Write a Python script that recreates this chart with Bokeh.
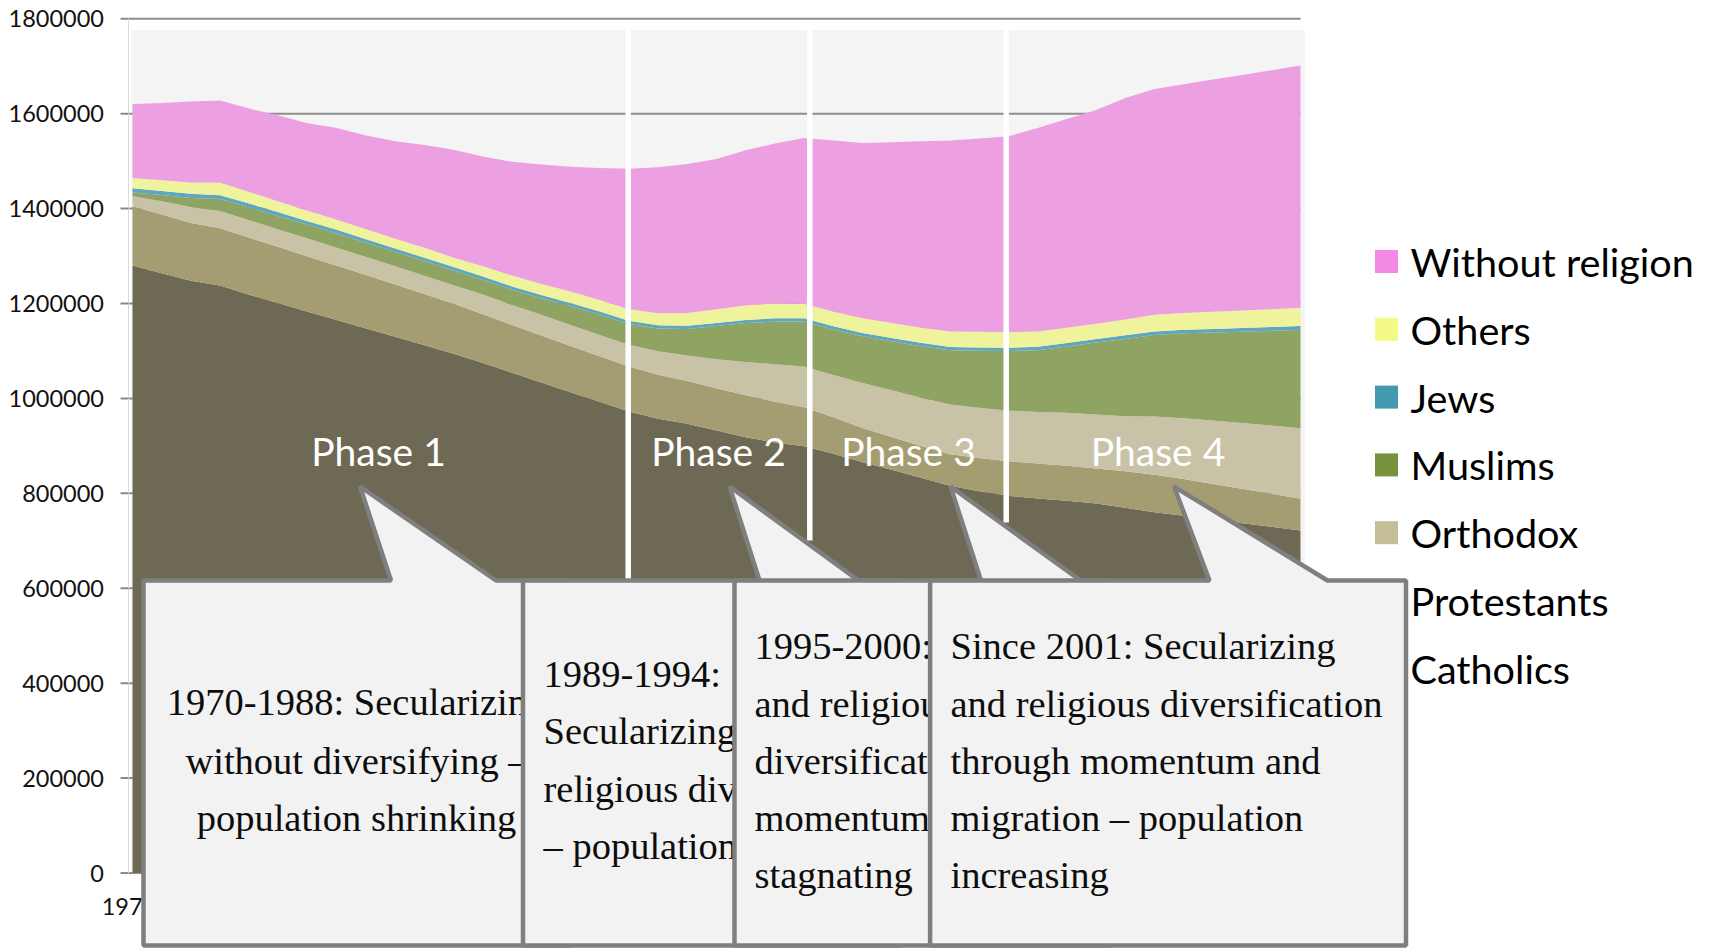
from bokeh.plotting import figure
from bokeh.models import ColumnDataSource, Range1d, FixedTicker, BasicTickFormatter, PolyAnnotation, Label
from bokeh.core.properties import value
from bokeh.embed import file_html
from bokeh.resources import INLINE

# ---------------- data ----------------
years = list(range(1970, 2011))

catholics = [1280000, 1264000, 1248000, 1238000, 1218500, 1200600, 1182800, 1165100, 1147400, 1129800,
             1112000, 1094200, 1074800, 1054100, 1033700, 1013100, 992800, 972400, 957000, 946500,
             932300, 918200, 907000, 899300, 883200, 865500, 849500, 832700, 815800, 804400,
             794800, 789000, 784200, 778500, 769500, 760200, 752600, 744800, 737000, 729400, 721600]
protestants = [125000, 123500, 121500, 120500, 120000, 118500, 116500, 114500, 112500, 110500,
               108000, 105500, 102500, 100500, 99000, 97500, 96000, 94800, 92700, 90000,
               89200, 88500, 86000, 82000, 77000, 72000, 69000, 67000, 66500, 70000,
               73000, 74000, 74000, 74000, 77000, 79000, 77500, 75000, 72500, 70000, 67000]
orthodox = [21000, 28000, 34000, 36500, 37000, 37000, 37500, 38000, 38000, 38000,
            38500, 39000, 41500, 42500, 43500, 44000, 44700, 45700, 49700, 54000,
            61000, 70000, 79000, 86000, 89000, 95000, 99000, 102000, 105000, 106000,
            106500, 108500, 111500, 113500, 116000, 122500, 128000, 133500, 138500, 143500, 148800]
muslims = [7800, 13000, 19000, 25000, 27000, 28000, 29000, 30000, 30000, 30500,
           31000, 31000, 31000, 32000, 35000, 40000, 43000, 44000, 48000, 56000,
           70000, 82000, 90000, 95000, 96000, 98500, 103000, 108500, 114000, 120000,
           125500, 130000, 140000, 152000, 163000, 172000, 179000, 185500, 192500, 199500, 207000]
jews = [9000, 8800, 8600, 8400, 8200, 8000, 7800, 7600, 7400, 7200,
        7000, 7000, 6900, 6800, 6700, 6600, 6600, 6600, 6600, 6700,
        6700, 6800, 6800, 6800, 6900, 6900, 7000, 7000, 7000, 7100,
        7100, 7200, 7200, 7300, 7400, 7500, 7600, 7700, 7800, 7900, 8000]
others = [21800, 22500, 24000, 26000, 24500, 23000, 22000, 21500, 21000, 20500,
          21000, 20000, 22000, 23000, 23500, 24000, 24500, 24600, 25500, 26700,
          28500, 30500, 31500, 30500, 30500, 31000, 31500, 32000, 33000, 33000,
          32500, 32300, 32300, 32300, 33500, 35000, 35500, 36000, 37000, 37800, 38600]
without_religion = [156100, 163000, 170500, 173200, 175600, 180900, 184400, 193300, 197700, 205500,
                    216500, 227300, 231000, 239800, 251800, 262800, 278100, 295900, 307500, 313900,
                    316700, 327000, 336700, 349400, 360800, 369600, 380800, 392800, 402100, 407100,
                    413100, 429000, 439800, 450400, 466600, 476100, 481800, 489500, 496500, 503500, 510400]

series_names = ["Catholics", "Protestants", "Orthodox", "Muslims", "Jews", "Others", "Without religion"]
series_values = [catholics, protestants, orthodox, muslims, jews, others, without_religion]
area_colors = ["#6E6954", "#A59D72", "#C8C3A6", "#8FA363", "#5FA6BF", "#EEF39C", "#EDA0E1"]
legend_colors = ["#6E6954", "#A59D72", "#C4BD97", "#77933C", "#4499B0", "#F3FA85", "#F58AE6"]

y_ticks = [0, 200000, 400000, 600000, 800000, 1000000, 1200000, 1400000, 1600000, 1800000]
x_label = "1970"

phase_labels = ["Phase 1", "Phase 2", "Phase 3", "Phase 4"]
callout_texts = [
    ["1970-1988: Secularizing", "without diversifying \u2013", "population shrinking"],
    ["1989-1994:", "Secularizing and", "religious diversification", "\u2013 population increasing"],
    ["1995-2000: Secularizing", "and religious", "diversification through", "momentum \u2013 population", "stagnating"],
    ["Since 2001: Secularizing", "and religious diversification", "through momentum and", "migration \u2013 population", "increasing"],
]

# ---------------- layout helpers (picture pixel -> data) ----------------
CX, CY, W, H = 0, 0, 1700, 948          # canvas position / size in the picture
X0_PX, PX_PER_YEAR = 132.0, 29.2        # 1970 at picture x=132
Y0_PX, UNITS_PER_PX = 872.5, 2107.2     # value 0 at picture y=872.5


def fx(px):
    return 1970 + (px - X0_PX) / PX_PER_YEAR


def fy(py):
    return (Y0_PX - py) * UNITS_PER_PX


p = figure(width=W, height=H, output_backend="svg", toolbar_location=None,
           x_axis_location=None,
           x_range=Range1d(fx(CX), fx(CX + W)), y_range=Range1d(fy(CY + H), fy(CY)),
           min_border_left=0, min_border_right=0, min_border_top=0, min_border_bottom=0)
p.outline_line_color = None
p.background_fill_color = "white"
p.border_fill_color = "white"
p.grid.visible = False

ax = p.yaxis[0]
ax.fixed_location = fx(127.5)
ax.ticker = FixedTicker(ticks=y_ticks)
ax.formatter = BasicTickFormatter(use_scientific=False)
ax.bounds = (0, 1800000)
ax.axis_line_color = "#D9D9D9"
ax.major_tick_line_color = "#868686"
ax.major_tick_out = 7
ax.major_tick_in = 0
ax.minor_tick_line_color = None
ax.major_label_text_font = "Lato"
ax.major_label_text_font_size = "23.5px"
ax.major_label_text_color = "#111111"
ax.major_label_standoff = 17

# plot-area background and gridlines
p.quad(left=fx(131), right=fx(1304.6), bottom=0, top=fy(29.4), color="#F4F4F4", line_color=None)
p.segment(x0=[fx(120)] * len(y_ticks), x1=[fx(1300)] * len(y_ticks), y0=y_ticks, y1=y_ticks,
          line_color="#8E8E8E", line_width=2)

# stacked areas
src = ColumnDataSource(data=dict(year=years, **{n: v for n, v in zip(series_names, series_values)}))
p.varea_stack(stackers=series_names, x="year", color=area_colors, source=src)

# phase separators
sep_x = [fx(627.7), fx(809.3), fx(1005.7)]
p.segment(x0=sep_x, x1=sep_x, y0=[fy(29.4)] * 3, y1=[fy(580), fy(540), fy(522)],
          line_color="white", line_width=5.5)

p.text(x=[fx(378), fx(718), fx(908), fx(1157.5)], y=[fy(450)] * 4, text=phase_labels,
       text_font=value("Lato"), text_font_size="39px", text_color="white",
       text_align="center", text_baseline="middle")

# legend (drawn as glyphs so the callouts can sit on top of it)
leg_names = series_names[::-1]
leg_cols = legend_colors[::-1]
leg_y = [fy(261 + 67.8 * i) for i in range(len(leg_names))]
p.scatter(x=[fx(1386)] * len(leg_names), y=leg_y, marker="square", size=23,
          fill_color=leg_cols, line_color=None)
p.text(x=[fx(1410)] * len(leg_names), y=leg_y, text=leg_names, text_font=value("Lato"),
       text_font_size="39.6px", text_color="black", text_align="left", text_baseline="middle")

# x label (mostly hidden by the callouts)
p.text(x=[fx(128.5)], y=[fy(906)], text=[x_label], text_font=value("Lato"), text_font_size="23.5px",
       text_color="#111111", text_align="center", text_baseline="middle")

# callouts
TOP, BOT, TIP_Y = 580, 945, 486
callouts = [
    dict(L=143, R=569, tip=359.5, bl=390.5, br=495.5, align="center", tx=356, ty=[701, 760, 817.5]),
    dict(L=522.5, R=900, tip=729, bl=759, br=858, align="left", tx=543, ty=[673.6, 730.3, 788, 845.8]),
    dict(L=734, R=1110, tip=950, bl=980.5, br=1080, align="left", tx=754, ty=[645.3, 703, 760.5, 817.5, 874.2]),
    dict(L=929.6, R=1405.5, tip=1173.5, bl=1209, br=1327, align="left", tx=950, ty=[645.3, 703, 760.5, 817.5, 874.2]),
]
for c, lines in zip(callouts, callout_texts):
    xs_px = [c["L"], c["bl"], c["tip"], c["br"], c["R"], c["R"], c["L"]]
    ys_px = [TOP, TOP, TIP_Y, TOP, TOP, BOT, BOT]
    p.add_layout(PolyAnnotation(xs=[fx(v) for v in xs_px], ys=[fy(v) for v in ys_px],
                                fill_color="#F2F2F2", fill_alpha=1.0,
                                line_color="#7F7F7F", line_width=4.5, line_alpha=1.0))
    for line, ty in zip(lines, c["ty"]):
        p.add_layout(Label(x=fx(c["tx"]), y=fy(ty), text=line, text_font="Liberation Serif",
                           text_font_size="38.5px", text_color="#0D0D0D",
                           text_align=c["align"], text_baseline="middle"))

open("out.html", "w").write(file_html(p, INLINE))
